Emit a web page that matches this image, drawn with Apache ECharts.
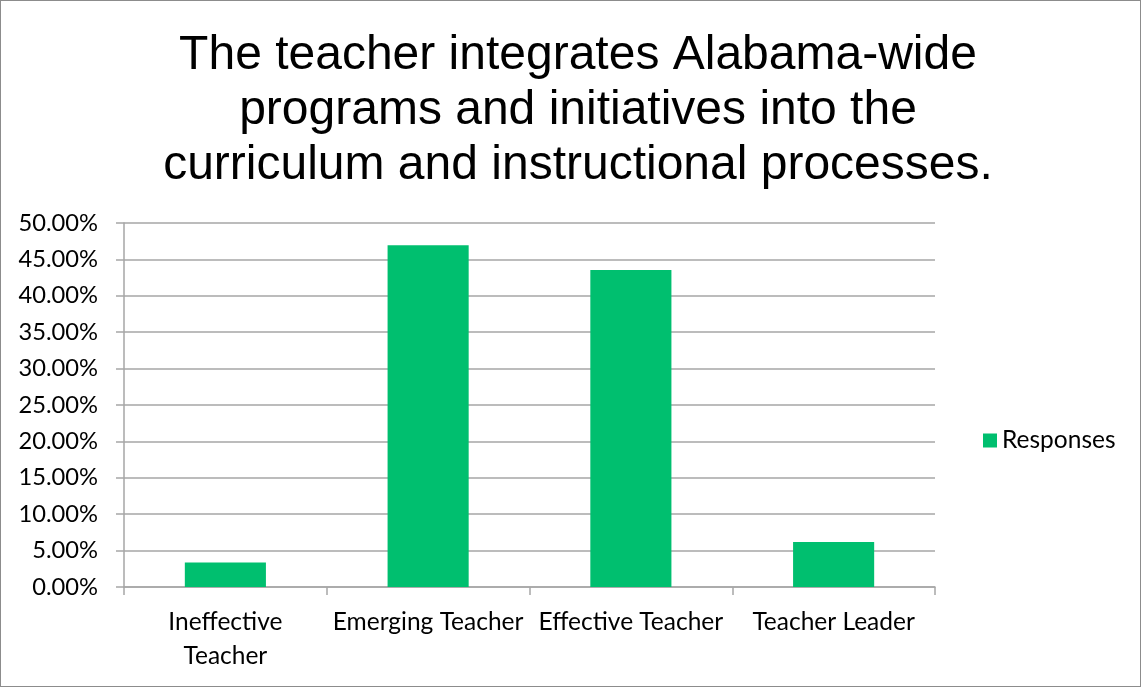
<!DOCTYPE html>
<html>
<head>
<meta charset="utf-8">
<script src="https://cdn.jsdelivr.net/npm/echarts@6/dist/echarts.min.js"></script>
<style>
  html, body { margin: 0; padding: 0; background: #fff; }
  #chart { width: 1141px; height: 687px; box-sizing: border-box; border: 1px solid #8c8c8c; }
</style>
</head>
<body>
<div id="chart"></div>
<script>
const categories = ['Ineffective\nTeacher', 'Emerging Teacher', 'Effective Teacher', 'Teacher Leader']
const responses = [3.35, 46.94, 43.54, 6.18]
const yTicks = { min: 0, max: 50, interval: 5 }

const chart = echarts.init(document.getElementById('chart'))

const options = {
  animation: false,
  title: {
    text: 'The teacher integrates Alabama-wide\nprograms and initiatives into the\ncurriculum and instructional processes.',
    left: 572,
    top: 22,
    textAlign: 'center',
    textStyle: {
      fontFamily: 'Liberation Sans',
      fontWeight: 'normal',
      fontSize: 48,
      lineHeight: 55,
      color: '#000'
    }
  },
  legend: {
    data: ['Responses'],
    orient: 'vertical',
    left: 977,
    top: 422,
    itemWidth: 14,
    itemHeight: 14,
    icon: 'rect',
    textStyle: { fontFamily: 'Lato', fontSize: 24.5, color: '#000' }
  },
  grid: {
    left: 123,
    right: 205,
    top: 222,
    bottom: 99,
    containLabel: false
  },
  xAxis: {
    type: 'category',
    data: categories,
    axisLine: { lineStyle: { color: '#a6a6a6', width: 1.5 } },
    axisTick: { show: true, length: 8, alignWithLabel: false, lineStyle: { color: '#a6a6a6', width: 1.5 } },
    axisLabel: {
      interval: 0,
      margin: 18,
      fontFamily: 'Lato',
      fontSize: 24.5,
      lineHeight: 34,
      color: '#000'
    }
  },
  yAxis: {
    type: 'value',
    min: yTicks.min,
    max: yTicks.max,
    interval: yTicks.interval,
    axisLine: { show: true, lineStyle: { color: '#a6a6a6', width: 1.5 } },
    axisTick: { show: true, length: 8, lineStyle: { color: '#a6a6a6', width: 1.5 } },
    splitLine: { lineStyle: { color: '#a6a6a6', width: 1.5 } },
    axisLabel: {
      margin: 26,
      fontFamily: 'Lato',
      fontSize: 23.7,
      color: '#000',
      formatter: v => v.toFixed(2) + '%'
    }
  },
  series: [{
    name: 'Responses',
    type: 'bar',
    data: responses,
    barWidth: '40%',
    itemStyle: { color: '#00bf6f' }
  }]
}
chart.setOption(options)

window.addEventListener('resize', () => {
  chart.resize()
})
</script>
</body>
</html>
